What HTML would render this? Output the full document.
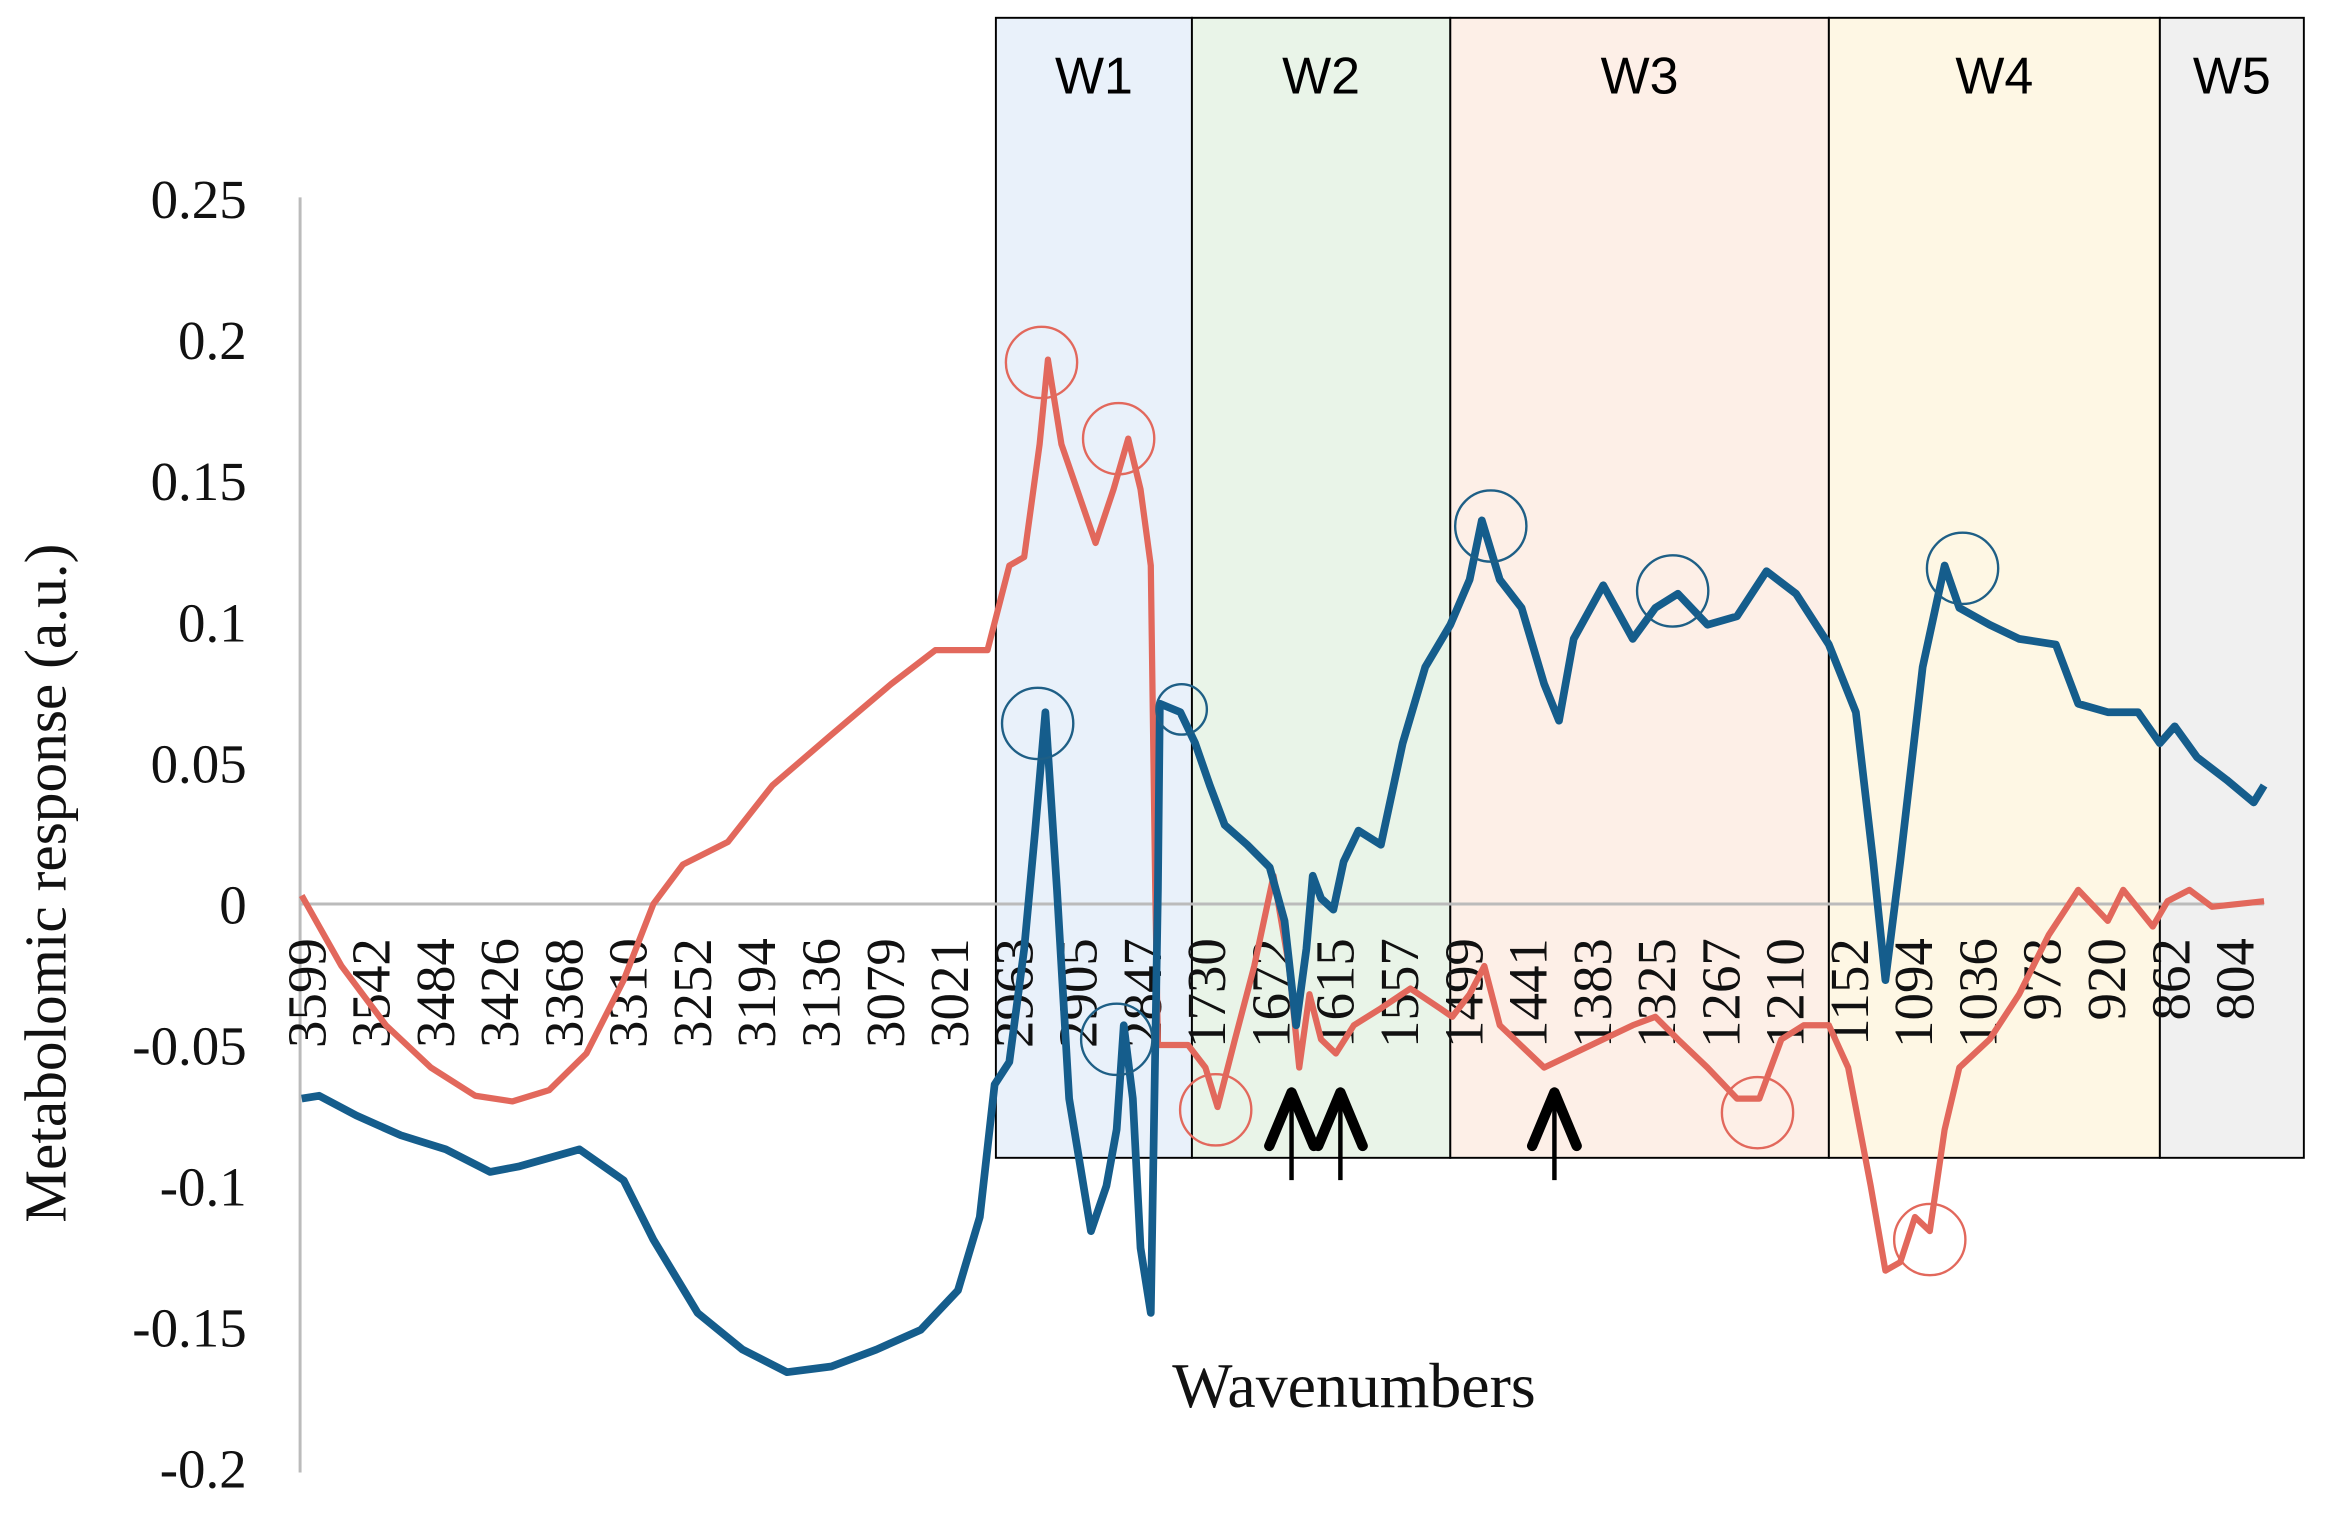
<!DOCTYPE html>
<html><head><meta charset="utf-8">
<style>
html,body{margin:0;padding:0;background:#fff;}
svg{display:block;}
.tick{font-family:"Liberation Serif",serif;font-size:37px;fill:#111;}
.band{font-family:"Liberation Sans",sans-serif;font-size:35px;fill:#000;}
</style></head>
<body>
<svg id="chart" width="2328" height="1520" viewBox="0 0 1568 1024" xmlns="http://www.w3.org/2000/svg">
<g id="bands"></g>
<g id="axes"></g>
<g id="series"></g>
<g id="marks"></g>
</svg>
<script>
const tickLabels=["3599","3542","3484","3426","3368","3310","3252","3194","3136","3079","3021","2963","2905","2847","1730","1672","1615","1557","1499","1441","1383","1325","1267","1210","1152","1094","1036","978","920","862","804"];
const yTicks=[0.25,0.2,0.15,0.1,0.05,0,-0.05,-0.1,-0.15,-0.2];
const yTickText=["0.25","0.2","0.15","0.1","0.05","0","-0.05","-0.1","-0.15","-0.2"];
const regionNames=["W1","W2","W3","W4","W5"];
const regionStart=[10.71,13.76,17.78,23.67,28.82];
const regionEnd=[13.76,17.78,23.67,28.82,31.06];
const redPos=[-0.09,0.53,1.22,1.92,2.61,3.19,3.76,4.34,4.92,5.38,5.84,6.54,7.23,8.15,9.08,9.77,10.58,10.92,11.15,11.39,11.52,11.73,12.26,12.54,12.77,12.96,13.12,13.19,13.23,13.7,13.97,14.16,14.43,14.73,15.03,15.27,15.43,15.59,15.77,16.0,16.28,16.7,17.16,17.62,17.81,18.08,18.31,18.55,18.78,19.24,19.7,20.16,20.62,20.97,21.32,21.78,22.24,22.59,22.93,23.28,23.67,23.97,24.32,24.55,24.78,25.01,25.24,25.47,25.7,26.17,26.63,27.09,27.32,27.55,28.01,28.25,28.71,28.94,29.28,29.63,30.44];
const redVal=[0.003,-0.022,-0.043,-0.058,-0.068,-0.07,-0.066,-0.053,-0.027,0,0.014,0.022,0.042,0.06,0.078,0.09,0.09,0.12,0.123,0.163,0.193,0.163,0.128,0.147,0.165,0.147,0.12,0.005,-0.05,-0.05,-0.058,-0.072,-0.048,-0.022,0.01,-0.022,-0.058,-0.032,-0.048,-0.053,-0.043,-0.037,-0.03,-0.037,-0.04,-0.032,-0.022,-0.043,-0.048,-0.058,-0.053,-0.048,-0.043,-0.04,-0.048,-0.058,-0.069,-0.069,-0.048,-0.043,-0.043,-0.058,-0.1,-0.13,-0.127,-0.111,-0.116,-0.08,-0.058,-0.048,-0.032,-0.011,-0.003,0.005,-0.006,0.005,-0.008,0.001,0.005,-0.001,0.001];
const bluePos=[-0.09,0.18,0.76,1.45,2.15,2.84,3.3,4.23,4.92,5.38,6.07,6.77,7.46,8.15,8.85,9.54,10.12,10.46,10.69,10.92,11.15,11.32,11.48,11.66,11.85,12.19,12.43,12.59,12.7,12.84,12.96,13.12,13.23,13.26,13.58,13.81,14.04,14.27,14.62,14.97,15.2,15.38,15.54,15.64,15.77,15.96,16.12,16.35,16.7,17.04,17.39,17.78,18.08,18.27,18.55,18.89,19.24,19.47,19.7,20.16,20.62,20.97,21.32,21.78,22.24,22.7,23.16,23.67,24.09,24.36,24.55,24.78,25.13,25.47,25.7,26.17,26.63,27.2,27.55,28.01,28.48,28.82,29.05,29.4,29.86,30.28,30.44];
const blueVal=[-0.069,-0.068,-0.075,-0.082,-0.087,-0.095,-0.093,-0.087,-0.098,-0.119,-0.145,-0.158,-0.166,-0.164,-0.158,-0.151,-0.137,-0.111,-0.064,-0.056,-0.016,0.026,0.068,0.005,-0.069,-0.116,-0.1,-0.08,-0.043,-0.069,-0.122,-0.145,0.005,0.071,0.068,0.057,0.042,0.028,0.021,0.013,-0.006,-0.043,-0.016,0.01,0.002,-0.002,0.015,0.026,0.021,0.057,0.084,0.099,0.115,0.136,0.115,0.105,0.078,0.065,0.094,0.113,0.094,0.105,0.11,0.099,0.102,0.118,0.11,0.092,0.068,0.015,-0.027,0.015,0.084,0.12,0.105,0.099,0.094,0.092,0.071,0.068,0.068,0.057,0.063,0.052,0.044,0.036,0.042];
const redCirclePos=[11.42,12.62,14.13,22.56,25.24];
const redCircleVal=[0.192,0.165,-0.073,-0.074,-0.119];
const blueCirclePos=[11.36,18.41,21.24,25.75,13.6,12.59];
const blueCircleVal=[0.064,0.134,0.111,0.119,0.069,-0.048];
const arrowPos=[15.31,16.07,19.4];

const NS="http://www.w3.org/2000/svg";
const X=t=>207+43.3*t;
const Y=v=>609-v*1900;
function mk(tag,attrs,parent){const e=document.createElementNS(NS,tag);for(const k in attrs)e.setAttribute(k,attrs[k]);parent.appendChild(e);return e;}
const bands=document.getElementById('bands'),axes=document.getElementById('axes'),series=document.getElementById('series'),marks=document.getElementById('marks');
const fills=["#e9f1fa","#e9f4e8","#fdefe7","#fef7e4","#f0f0f0"];
regionNames.forEach((n,i)=>{
  const x0=X(regionStart[i]),x1=X(regionEnd[i]);
  const r=mk('rect',{x:x0,y:12,width:x1-x0,height:768,fill:fills[i],stroke:"#000","stroke-width":1.3},bands);
  
  
  const t=mk('text',{x:(x0+x1)/2,y:63,"text-anchor":"middle",class:"band"},bands);
  t.textContent=n;
  
  
});
const ya=mk('line',{x1:202,y1:133,x2:202,y2:992,stroke:"#bbb","stroke-width":2},axes);


const zl=mk('line',{x1:202,y1:Y(0),x2:1525,y2:Y(0),stroke:"#bbb","stroke-width":2},axes);


yTicks.forEach((v,i)=>{
  const t=mk('text',{x:166,y:Y(v)+13,"text-anchor":"end",class:"tick"},axes);
  t.textContent=yTickText[i];
  
  
});
tickLabels.forEach((l,i)=>{
  const x=X(i);
  const t=mk('text',{x:0,y:0,"text-anchor":"end",class:"tick",transform:`translate(${x+12},632) rotate(-90)`},axes);
  t.textContent=l;
  
  
});
const yt=mk('text',{x:0,y:0,"text-anchor":"middle",class:"tick",style:"font-size:40px",transform:"translate(44,595) rotate(-90)"},axes);
yt.textContent="Metabolomic response (a.u.)";


const xt=mk('text',{x:912,y:948,"text-anchor":"middle",class:"tick",style:"font-size:43px"},axes);
xt.textContent="Wavenumbers";


function line(pos,val,color,w,name){
  const d=pos.map((p,i)=>(i?'L':'M')+X(p).toFixed(1)+','+Y(val[i]).toFixed(1)).join('');
  const p=mk('path',{d:d,fill:"none",stroke:color,"stroke-width":w,"stroke-linejoin":"round"},series);
  
  
}
line(redPos,redVal,"#e2685c",4.2,'red-series-line');
line(bluePos,blueVal,"#155d8c",5.2,'blue-series-line');
redCirclePos.forEach((p,i)=>{
  const c=mk('circle',{cx:X(p),cy:Y(redCircleVal[i]),r:24,fill:"none",stroke:"#e2685c","stroke-width":1.6},marks);
  
  
});
blueCirclePos.forEach((p,i)=>{
  const c=mk('circle',{cx:X(p),cy:Y(blueCircleVal[i]),r:i==4?17:24,fill:"none",stroke:"#1e5f86","stroke-width":1.6},marks);
  
  
});
arrowPos.forEach(p=>{
  const x=X(p);
  const g=mk('g',{},marks);
  
  
  mk('line',{x1:x,y1:738,x2:x,y2:795,stroke:"#000","stroke-width":3},g);
  mk('path',{d:`M${x-15},772L${x},736L${x+15},772`,fill:"none",stroke:"#000","stroke-width":7,"stroke-linecap":"round","stroke-linejoin":"round"},g);
});
</script>
</body></html>
